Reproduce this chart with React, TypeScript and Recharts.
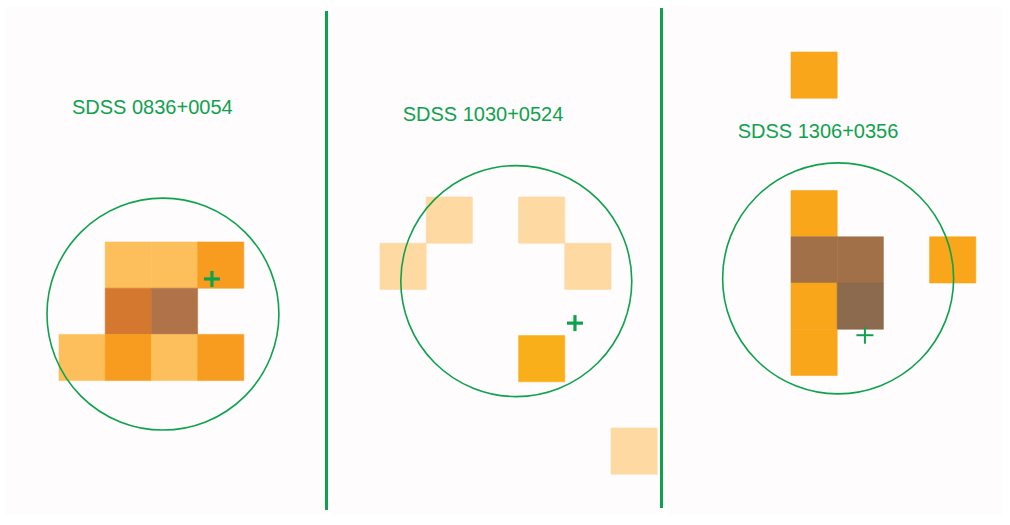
import React from 'react';
import { ScatterChart, Scatter, XAxis, YAxis, ReferenceArea } from 'recharts';

// Image pixels (col,row) in each cutout, with the tone of each pixel
const COLORS: Record<string, string> = {
  light: '#fdbf5b',
  orange: '#f79c1f',
  rust: '#d4782f',
  brown: '#b07349',
  peach: '#fed9a2',
  amber: '#f9af1a',
  gold: '#f9a61b',
  umber: '#a27048',
  dark: '#8c6a4d',
};

const names = ['SDSS 0836+0054', 'SDSS 1030+0524', 'SDSS 1306+0356'];

const cells0 = [
  { col: 1, row: 0, tone: 'light' },
  { col: 2, row: 0, tone: 'light' },
  { col: 3, row: 0, tone: 'orange' },
  { col: 1, row: 1, tone: 'rust' },
  { col: 2, row: 1, tone: 'brown' },
  { col: 0, row: 2, tone: 'light' },
  { col: 1, row: 2, tone: 'orange' },
  { col: 2, row: 2, tone: 'light' },
  { col: 3, row: 2, tone: 'orange' },
];
const cells1 = [
  { col: 1, row: 0, tone: 'peach' },
  { col: 3, row: 0, tone: 'peach' },
  { col: 0, row: 1, tone: 'peach' },
  { col: 4, row: 1, tone: 'peach' },
  { col: 3, row: 3, tone: 'amber' },
  { col: 5, row: 5, tone: 'peach' },
];
const cells2 = [
  { col: 0, row: 0, tone: 'gold' },
  { col: 0, row: 3, tone: 'gold' },
  { col: 0, row: 4, tone: 'umber' },
  { col: 1, row: 4, tone: 'umber' },
  { col: 3, row: 4, tone: 'gold' },
  { col: 0, row: 5, tone: 'gold' },
  { col: 1, row: 5, tone: 'dark' },
  { col: 0, row: 6, tone: 'gold' },
];

// aperture circles (center, radius in image pixels)
const apertures = [
  { x: 2.25, y: 1.56, r: 2.51 },
  { x: 2.95, y: 1.82, r: 2.5 },
  { x: 1.02, y: 4.9, r: 2.5 },
];
// target positions (plus markers)
const targets = [
  { x: 3.31, y: 0.8, bold: true },
  { x: 4.22, y: 2.73, bold: true },
  { x: 1.6, y: 6.13, bold: false },
];
// label anchor (baseline center)
const labelPos = [
  { x: 2.02, y: -2.77 },
  { x: 2.23, y: -1.645 },
  { x: 0.584, y: 1.86 },
];

const cellSets = [cells0, cells1, cells2];

// layout: pixels per image pixel and panel frames
const PX = 46.2;
const TOP = 7;
const HEIGHT = 508;
const panels = [
  { left: 5, width: 318, ox: 59, oy: 242 },
  { left: 332, width: 326, ox: 380, oy: 197 },
  { left: 666, width: 336, ox: 791, oy: 52 },
];
const GREEN = '#0fa24d';

function Panel({ i }: { i: number }) {
  const p = panels[i];
  const x0 = -(p.ox - p.left) / PX;
  const x1 = (p.left + p.width - p.ox) / PX;
  const y0 = -(p.oy - TOP) / PX;
  const y1 = (TOP + HEIGHT - p.oy) / PX;
  const circle = [apertures[i]];
  const plus = [targets[i]];
  const label = [{ ...labelPos[i], name: names[i] }];
  return (
    <div style={{ position: 'absolute', left: p.left, top: TOP, width: p.width, height: HEIGHT, background: '#fefcfd' }}>
      <ScatterChart width={p.width} height={HEIGHT} margin={{ top: 0, right: 0, bottom: 0, left: 0 }}>
        <XAxis type="number" dataKey="x" domain={[x0, x1]} hide allowDataOverflow />
        <YAxis type="number" dataKey="y" domain={[y0, y1]} reversed hide allowDataOverflow />
        {cellSets[i].map((c, k) => (
          <ReferenceArea
            key={k}
            x1={c.col}
            x2={c.col + 1}
            y1={c.row}
            y2={c.row + 1}
            fill={COLORS[c.tone]}
            fillOpacity={1}
            stroke={COLORS[c.tone]}
            strokeWidth={0.6}
            strokeOpacity={1}
            ifOverflow="visible"
          />
        ))}
        <Scatter
          data={circle}
          isAnimationActive={false}
          shape={(props: any) => (
            <circle cx={props.cx} cy={props.cy} r={props.payload.r * PX} fill="none" stroke={GREEN} strokeWidth={1.6} />
          )}
        />
        <Scatter
          data={plus}
          isAnimationActive={false}
          shape={(props: any) => {
            const h = props.payload.bold ? 8 : 8.5;
            const w = props.payload.bold ? 3.2 : 2;
            return (
              <g stroke={GREEN} strokeWidth={w}>
                <line x1={props.cx - h} y1={props.cy} x2={props.cx + h} y2={props.cy} />
                <line x1={props.cx} y1={props.cy - h} x2={props.cx} y2={props.cy + h} />
              </g>
            );
          }}
        />
        <Scatter
          data={label}
          isAnimationActive={false}
          shape={(props: any) => (
            <text
              x={props.cx}
              y={props.cy}
              textAnchor="middle"
              fill={GREEN}
              fontSize={20}
              fontFamily="'Liberation Sans', Arial, sans-serif"
            >
              {props.payload.name}
            </text>
          )}
        />
      </ScatterChart>
    </div>
  );
}

export default function App() {
  return (
    <div style={{ position: 'absolute', left: 0, top: 0, width: 1010, height: 525, background: '#ffffff', overflow: 'hidden' }}>
      <Panel i={0} />
      <Panel i={1} />
      <Panel i={2} />
      <div style={{ position: 'absolute', left: 325, top: 11, width: 3, height: 499, background: GREEN }} />
      <div style={{ position: 'absolute', left: 660, top: 8, width: 3, height: 500, background: GREEN }} />
    </div>
  );
}
